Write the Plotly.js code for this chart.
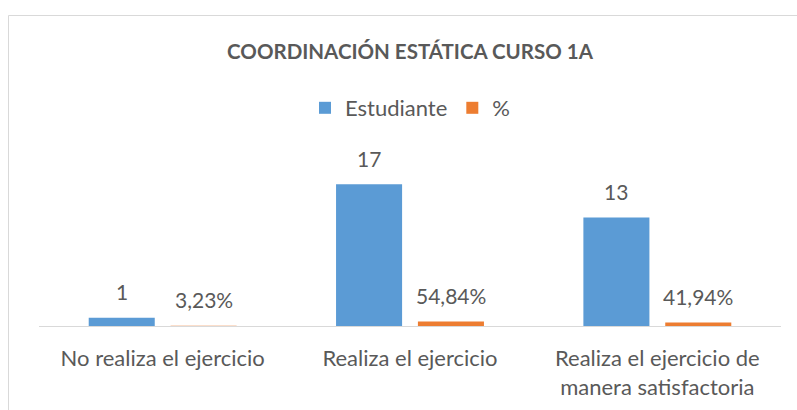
<!DOCTYPE html>
<html>
<head>
<meta charset="utf-8">
<script src="https://cdn.plot.ly/plotly-3.0.1.min.js"></script>
<style>
html,body{margin:0;padding:0;background:#fff;}
#chart{width:797px;height:410px;}
</style>
</head>
<body>
<div id="chart"></div>
<script>
const categories = ["No realiza el ejercicio", "Realiza el ejercicio", "Realiza el ejercicio de<br>manera satisfactoria"];
const estudiantes = [1, 17, 13];
const porcentaje = [0.0323, 0.5484, 0.4194];
const estudianteLabels = ["1", "17", "13"];
const porcentajeLabels = ["3,23%", "54,84%", "41,94%"];
const seriesNames = ["Estudiante", "%"];
const chartTitle = "COORDINACIÓN ESTÁTICA CURSO 1A";

const textColor = "#595959";
const fontFam = "Lato, 'Open Sans', sans-serif";

const traces = [
  {
    type: "bar", name: seriesNames[0], x: categories, y: estudiantes,
    marker: {color: "#5b9bd5"}, width: 0.267, offset: -0.299,
    hoverinfo: "none"
  },
  {
    type: "bar", name: seriesNames[1], x: categories, y: porcentaje,
    marker: {color: "#ed7d31"}, width: 0.267, offset: 0.032,
    hoverinfo: "none"
  }
];

const annotations = [];
categories.forEach((c, i) => {
  annotations.push({x: c, y: estudiantes[i], xref: "x", yref: "y", text: estudianteLabels[i],
    showarrow: false, xshift: -41, yshift: 26, yanchor: "middle",
    font: {family: fontFam, size: 21, color: textColor}});
  annotations.push({x: c, y: porcentaje[i], xref: "x", yref: "y", text: porcentajeLabels[i],
    showarrow: false, xshift: 41, yshift: 26, yanchor: "middle",
    font: {family: fontFam, size: 21, color: textColor}});
});

const layout = {
  width: 797, height: 410,
  margin: {l: 39, r: 16, t: 140, b: 84},
  paper_bgcolor: "#ffffff", plot_bgcolor: "#ffffff",
  title: {
    text: "<b>" + chartTitle + "</b>",
    x: 0.5, xref: "paper", y: 1 - 52/410, yref: "container", yanchor: "middle",
    font: {family: fontFam, size: 20.5, color: textColor}
  },
  showlegend: true,
  legend: {
    orientation: "h", x: 0.5, xanchor: "center", xref: "paper",
    y: 1 - 108/410, yref: "container", yanchor: "middle",
    font: {family: fontFam, size: 22, color: textColor},
    itemwidth: 30, traceorder: "normal"
  },
  barmode: "group",
  xaxis: {
    type: "category", showgrid: false, zeroline: false,
    showline: true, linecolor: "#d9d9d9", linewidth: 1,
    ticks: "", ticklabelstandoff: 13,
    tickfont: {family: fontFam, size: 22, color: textColor},
    fixedrange: true
  },
  yaxis: {
    range: [0, 22.3], visible: false, showgrid: false, zeroline: false, fixedrange: true
  },
  annotations: annotations,
  shapes: [{
    type: "rect", xref: "paper", yref: "paper",
    x0: (8.5 - 39) / 742, x1: (820 - 39) / 742,
    y0: -0.6, y1: (326 - 15.5) / 186,
    line: {color: "#d9d9d9", width: 1}, fillcolor: "rgba(0,0,0,0)", layer: "below"
  }]
};

Plotly.newPlot("chart", traces, layout, {displayModeBar: false, staticPlot: true});
</script>
</body>
</html>
